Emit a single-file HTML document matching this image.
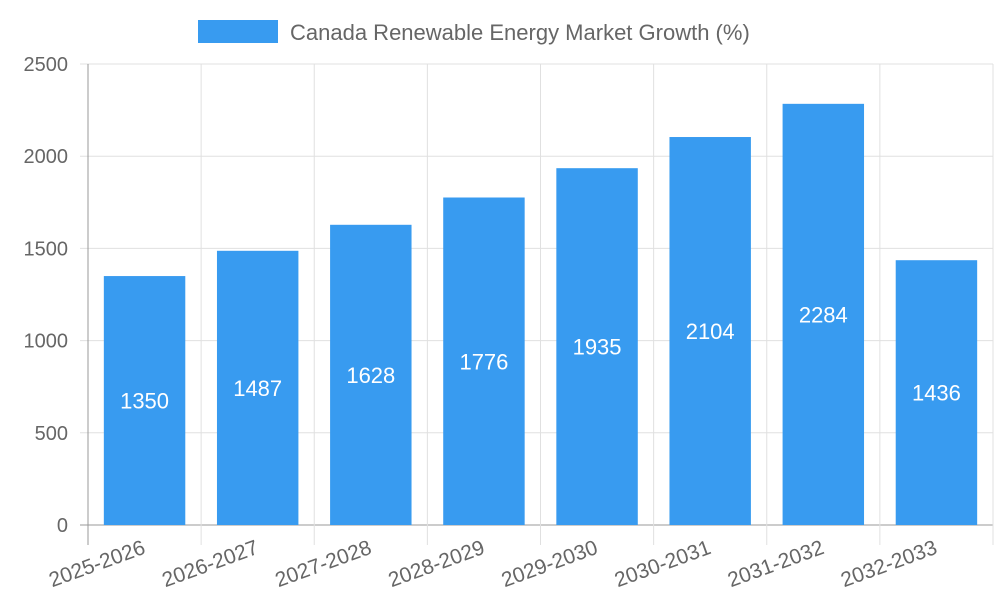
<!DOCTYPE html>
<html><head><meta charset="utf-8"><style>
body{margin:0;background:#fff;}
svg text{font-family:"Liberation Sans",sans-serif;}
</style></head><body>
<svg id="chart" width="1000" height="600" xmlns="http://www.w3.org/2000/svg">
<g>
<rect x="198" y="20" width="80" height="23" fill="#389bf0"/>
<text x="290" y="40" font-size="22" fill="#666">Canada Renewable Energy Market Growth (%)</text>
</g>
<g id="grid"></g>
<g id="bars"></g>
<g id="axes"></g>
</svg>
<script>
const categories=["2025-2026","2026-2027","2027-2028","2028-2029","2029-2030","2030-2031","2031-2032","2032-2033"];
const values=[1350,1487,1628,1776,1935,2104,2284,1436];
const yTicks=[0,500,1000,1500,2000,2500];
const L=88,R=993,T=64,B=525,yMax=2500;
const NS="http://www.w3.org/2000/svg";
const bw=(R-L)/categories.length;
const y=v=>B-(v/yMax)*(B-T);
const x=i=>L+i*bw;
function mk(tag,attrs,parent,txt){const e=document.createElementNS(NS,tag);for(const k in attrs)e.setAttribute(k,attrs[k]);if(txt!==undefined)e.textContent=txt;document.getElementById(parent).appendChild(e);return e;}
yTicks.forEach(t=>{
 const g=mk('line',{x1:L-8,x2:R,y1:y(t),y2:y(t),stroke:t===0?'#999':'#e0e0e0','stroke-width':1},'grid');
 
 
 const l=mk('text',{x:L-20,y:y(t)+7,'font-size':20,fill:'#666','text-anchor':'end'},'axes',String(t));
 
 
});
for(let i=0;i<=categories.length;i++){
 const g=mk('line',{x1:x(i),x2:x(i),y1:T,y2:B+20,stroke:i===0?'#999':'#e0e0e0','stroke-width':1},'grid');
 
 
}
categories.forEach((c,i)=>{
 const cx=x(i)+bw/2,w=bw*0.72;
 const r=mk('rect',{x:cx-w/2,y:y(values[i]),width:w,height:B-y(values[i]),fill:'#389bf0'},'bars');
 
 
 const v=mk('text',{x:cx,y:(y(values[i])+B)/2+8,'font-size':22,fill:'#fff','text-anchor':'middle'},'bars',String(values[i]));
 
 
 const t=mk('text',{x:cx+2,y:B+28,'font-size':21,fill:'#666','text-anchor':'end',transform:`rotate(-20 ${cx+2} ${B+28})`},'axes',c);
 
 
});
</script>
</body></html>
